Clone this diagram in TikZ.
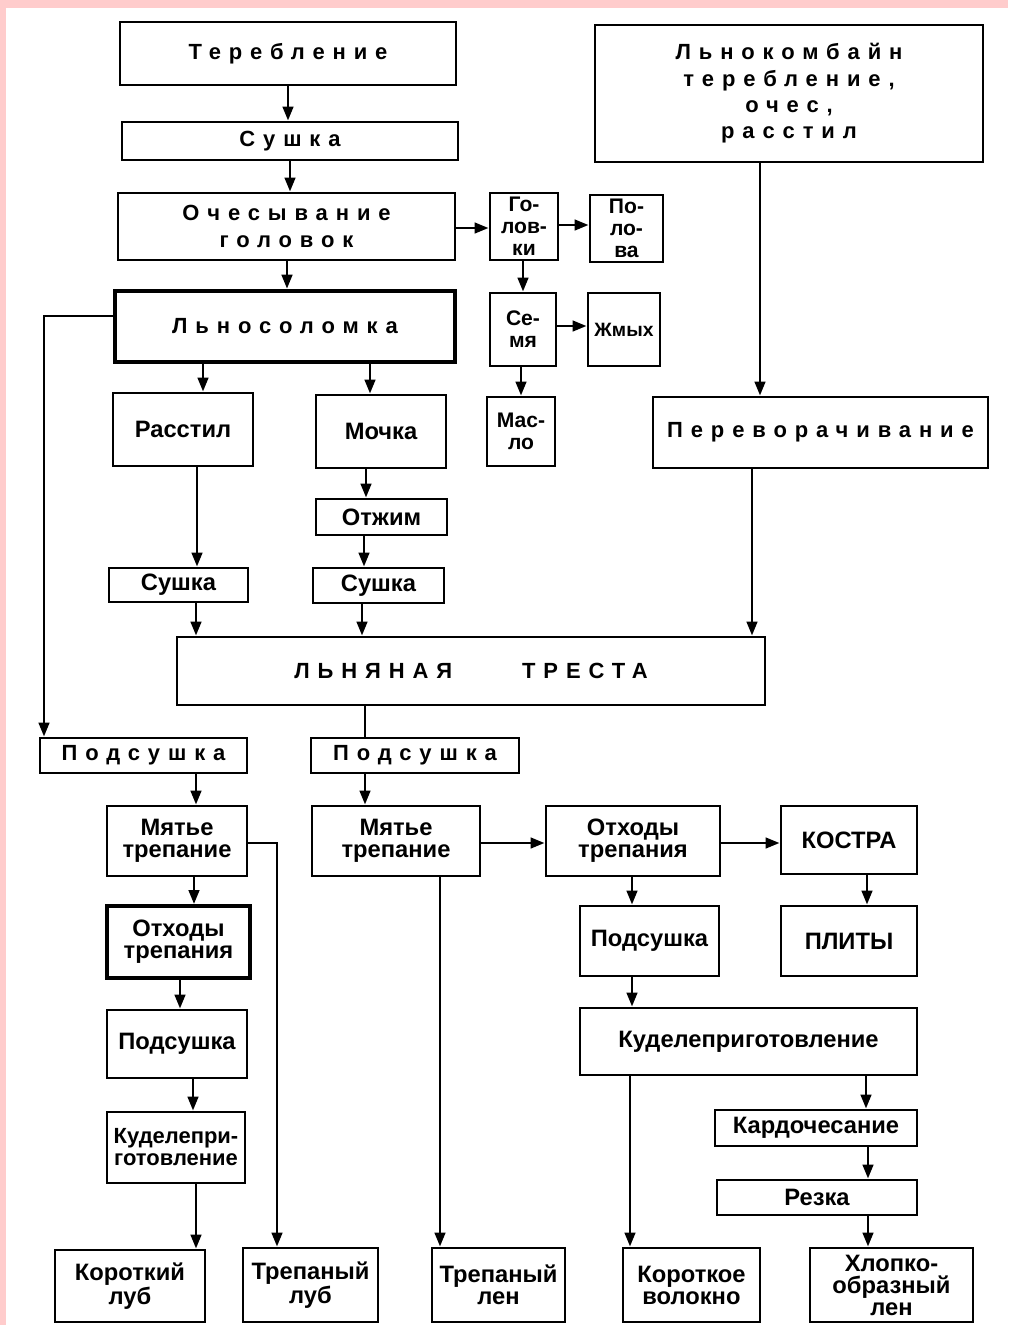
\documentclass[tikz,border=0pt]{standalone}
\usepackage{fontspec}
\setmainfont{Liberation Sans}
\newfontfamily\spread[LetterSpace=36]{Liberation Sans}
\usetikzlibrary{arrows.meta}
\definecolor{rim}{RGB}{255,204,204}

\begin{document}
\begin{tikzpicture}[x=0.02cm,y=-0.02cm,>={Triangle[length=8pt,width=6pt]},
  every node/.style={draw,rectangle,line width=1.6pt,inner sep=1pt,align=center,
    font=\bfseries\fontsize{13.5}{12.5}\selectfont},
  wide/.style={font=\spread\bfseries\fontsize{12.5}{15}\selectfont},
  small/.style={font=\bfseries\fontsize{12}{12.5}\selectfont},
  sz/.style 2 args={minimum width=#1*0.02cm,minimum height=#2*0.02cm},
  link/.style={line width=1.6pt}]
  \useasboundingbox (0,0) rectangle (1008,1325);
  \fill[white] (0,0) rectangle (1008,1325);
  \fill[rim] (0,0) rectangle (1008,8);
  \fill[rim] (0,0) rectangle (6,1325);

  % top chain
  \node[wide,sz={336}{63}] (ter) at (288,53.5) {Теребление};
  \node[wide,sz={336}{38}] (sush) at (290,141) {Сушка};
  \node[wide,sz={337}{67}] (oches) at (286.5,226.5) {Очесывание\\головок};
  \node[wide,sz={340}{71},line width=2.6pt] (lnsol) at (285,326.5) {Льносоломка};
  \node[wide,sz={388}{137}] (komb) at (789,93.5) {Льнокомбайн\\теребление,\\очес,\\расстил};

  % heads and seeds
  \node[small,sz={68}{67}] (gol) at (524,226.5) {Го-\\лов-\\ки};
  \node[small,sz={73}{67}] (pol) at (626.5,228.5) {По-\\ло-\\ва};
  \node[small,sz={66}{73}] (sem) at (523,329.5) {Се-\\мя};
  \node[small,sz={72}{73},font=\bfseries\fontsize{11}{11}\selectfont] (zhm) at (624,329.5) {Жмых};
  \node[small,sz={68}{69}] (masl) at (521,431.5) {Мас-\\ло};

  % retting
  \node[sz={140}{73}] (rasst) at (183,429.5) {Расстил};
  \node[sz={130}{73}] (mochka) at (381,431.5) {Мочка};
  \node[sz={131}{36}] (otzh) at (381.5,517) {Отжим};
  \node[sz={139}{34}] (sushl) at (178.5,585) {Сушка};
  \node[sz={131}{35}] (sushm) at (378.5,585.5) {Сушка};
  \node[wide,sz={335}{71}] (perev) at (820.5,432.5) {Переворачивание};
  \node[wide,sz={588}{68}] (tresta) at (471,671) {ЛЬНЯНАЯ\hspace{1.4cm}ТРЕСТА};

  % scutching
  \node[wide,sz={207}{35}] (podl) at (143.5,755.5) {Подсушка};
  \node[wide,sz={208}{35}] (podm) at (415,755.5) {Подсушка};
  \node[sz={140}{70}] (myatl) at (177,841) {Мятье\\трепание};
  \node[sz={168}{70}] (myatm) at (396,841) {Мятье\\трепание};
  \node[sz={174}{70}] (othr) at (633,841) {Отходы\\трепания};
  \node[sz={136}{68}] (kostra) at (849,840) {КОСТРА};
  \node[sz={143}{72},line width=2.2pt] (othl) at (178.5,942) {Отходы\\трепания};
  \node[sz={140}{68}] (podl2) at (177,1044) {Подсушка};
  \node[sz={139}{70}] (podr) at (649.5,941) {Подсушка};
  \node[sz={136}{70}] (plity) at (849,941) {ПЛИТЫ};
  \node[sz={337}{67}] (kudr) at (748.5,1041.5) {Куделеприготовление};
  \node[sz={202}{36}] (kard) at (816,1128) {Кардочесание};
  \node[sz={200}{35}] (rezka) at (817,1197.5) {Резка};
  \node[sz={138}{71},font=\bfseries\fontsize{12.5}{12.5}\selectfont] (kudl) at (176,1147.5) {Куделепри-\\готовление};

  % products
  \node[sz={150}{72}] (kl) at (130,1286) {Короткий\\луб};
  \node[sz={135}{74}] (tl) at (310.5,1285) {Трепаный\\луб};
  \node[sz={133}{74}] (tlen) at (498.5,1285) {Трепаный\\лен};
  \node[sz={137}{74}] (kv) at (691.5,1285) {Короткое\\волокно};
  \node[sz={163}{74}] (hl) at (891.5,1285) {Хлопко-\\образный\\лен};

  \draw[link,->] (ter.south -| 288,0) -- (sush.north -| 288,0);
  \draw[link,->] (sush.south -| 290,0) -- (oches.north -| 290,0);
  \draw[link,->] (oches.south -| 287,0) -- (lnsol.north -| 287,0);
  \draw[link,->] (oches.east |- 0,228) -- (gol.west |- 0,228);
  \draw[link,->] (gol.east |- 0,225) -- (pol.west |- 0,225);
  \draw[link,->] (gol.south -| 523,0) -- (sem.north -| 523,0);
  \draw[link,->] (sem.east |- 0,326) -- (zhm.west |- 0,326);
  \draw[link,->] (sem.south -| 521,0) -- (masl.north -| 521,0);
  \draw[link,->] (komb.south -| 760,0) -- (perev.north -| 760,0);
  \draw[link,->] (lnsol.south -| 203,0) -- (rasst.north -| 203,0);
  \draw[link,->] (lnsol.south -| 370,0) -- (mochka.north -| 370,0);
  \draw[link,->] (mochka.south -| 366,0) -- (otzh.north -| 366,0);
  \draw[link,->] (otzh.south -| 364,0) -- (sushm.north -| 364,0);
  \draw[link,->] (rasst.south -| 197,0) -- (sushl.north -| 197,0);
  \draw[link,->] (sushl.south -| 196,0) -- (tresta.north -| 196,0);
  \draw[link,->] (sushm.south -| 362,0) -- (tresta.north -| 362,0);
  \draw[link,->] (perev.south -| 752,0) -- (tresta.north -| 752,0);
  \draw[link,->] (lnsol.west |- 0,316) -| (podl.north -| 44,0);
  \draw[link] (tresta.south -| 365,0) -- (podm.north -| 365,0);
  \draw[link,->] (podl.south -| 196,0) -- (myatl.north -| 196,0);
  \draw[link,->] (podm.south -| 365,0) -- (myatm.north -| 365,0);
  \draw[link,->] (myatl.south -| 194,0) -- (othl.north -| 194,0);
  \draw[link,->] (othl.south -| 180,0) -- (podl2.north -| 180,0);
  \draw[link,->] (podl2.south -| 193,0) -- (kudl.north -| 193,0);
  \draw[link,->] (kudl.south -| 196,0) -- (kl.north -| 196,0);
  \draw[link,->] (myatl.east |- 0,843) -| (tl.north -| 277,0);
  \draw[link,->] (myatm.east |- 0,843) -- (othr.west |- 0,843);
  \draw[link,->] (myatm.south -| 440,0) -- (tlen.north -| 440,0);
  \draw[link,->] (othr.east |- 0,843) -- (kostra.west |- 0,843);
  \draw[link,->] (othr.south -| 632,0) -- (podr.north -| 632,0);
  \draw[link,->] (kostra.south -| 867,0) -- (plity.north -| 867,0);
  \draw[link,->] (podr.south -| 632,0) -- (kudr.north -| 632,0);
  \draw[link,->] (kudr.south -| 630,0) -- (kv.north -| 630,0);
  \draw[link,->] (kudr.south -| 866,0) -- (kard.north -| 866,0);
  \draw[link,->] (kard.south -| 868,0) -- (rezka.north -| 868,0);
  \draw[link,->] (rezka.south -| 868,0) -- (hl.north -| 868,0);
\end{tikzpicture}
\end{document}
